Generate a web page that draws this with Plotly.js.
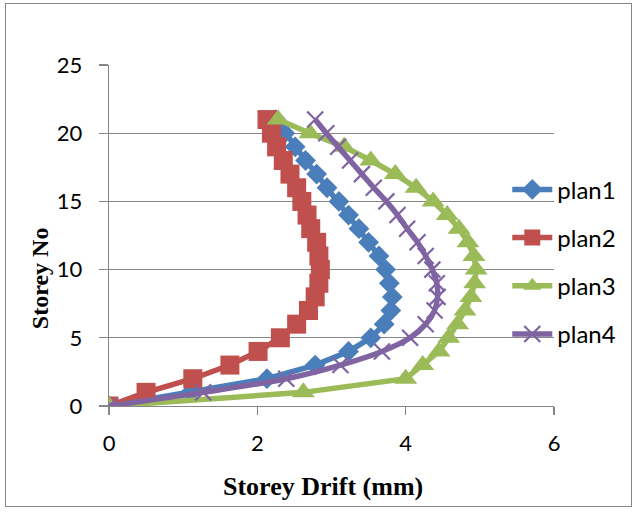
<!DOCTYPE html>
<html>
<head>
<meta charset="utf-8">
<script src="https://cdn.plot.ly/plotly-3.0.1.min.js"></script>
<style>
  html, body { margin: 0; padding: 0; background: #ffffff; }
  #wrap { position: relative; width: 640px; height: 512px; }
  #chart { width: 640px; height: 512px; }
  #frame { position: absolute; left: 5px; top: 3px; width: 627px; height: 504px;
           border: 1px solid #868686; pointer-events: none; box-sizing: border-box; }
</style>
</head>
<body>
<div id="wrap">
  <div id="chart"></div>
  <div id="frame"></div>
</div>
<script>
// Storey numbers (y) and storey drift in mm (x) for the four plans
const storeys = [0, 1, 2, 3, 4, 5, 6, 7, 8, 9, 10, 11, 12, 13, 14, 15, 16, 17, 18, 19, 20, 21];
const plan1 = [0, 1.10, 2.13, 2.78, 3.23, 3.53, 3.71, 3.80, 3.82, 3.78, 3.73, 3.64, 3.50, 3.37, 3.23, 3.10, 2.94, 2.80, 2.65, 2.51, 2.37, 2.25];
const plan2 = [0, 0.50, 1.13, 1.63, 2.01, 2.31, 2.53, 2.69, 2.78, 2.83, 2.85, 2.83, 2.80, 2.72, 2.67, 2.60, 2.53, 2.44, 2.35, 2.26, 2.19, 2.13];
const plan3 = [0, 2.62, 4.00, 4.23, 4.45, 4.58, 4.70, 4.80, 4.88, 4.93, 4.95, 4.92, 4.84, 4.72, 4.56, 4.37, 4.14, 3.86, 3.53, 3.17, 2.71, 2.28];
const plan4 = [0, 1.27, 2.39, 3.12, 3.68, 4.06, 4.27, 4.39, 4.43, 4.42, 4.36, 4.27, 4.16, 4.02, 3.89, 3.74, 3.57, 3.41, 3.25, 3.09, 2.93, 2.78];
const seriesNames = ['plan1', 'plan2', 'plan3', 'plan4'];
const xTicks = [0, 2, 4, 6];
const yTicks = [0, 5, 10, 15, 20, 25];

const sansFamily = 'Lato, "Open Sans", sans-serif';
const serifFamily = '"Liberation Serif", "Times New Roman", serif';
const tickFont = { family: sansFamily, size: 22, color: '#000000' };

const traces = [
  { x: plan1, y: storeys, name: seriesNames[0], legendgroup: 'g1', mode: 'lines+markers',
    line: { color: '#4A7EBB', width: 5.5 },
    marker: { symbol: 'diamond', size: 16, color: '#4A7EBB' } },
  { x: plan2, y: storeys, name: seriesNames[1], legendgroup: 'g2', mode: 'lines+markers',
    line: { color: '#C0504D', width: 5.5 },
    marker: { symbol: 'square', size: 19, color: '#C0504D' } },
  { x: plan3, y: storeys, name: seriesNames[2], legendgroup: 'g3', mode: 'lines+markers',
    line: { color: '#9BBB59', width: 5.5 },
    marker: { symbol: 'triangle-up', size: 20, color: '#9BBB59' } },
  { x: plan4, y: storeys, name: seriesNames[3], legendgroup: 'g4', mode: 'lines+markers',
    line: { color: '#8064A2', width: 5.5, shape: 'spline', smoothing: 0.8 },
    marker: { symbol: 'x-thin', size: 16, line: { color: '#8064A2', width: 2.2 } } }
];

const layout = {
  width: 640, height: 512,
  margin: { l: 109, r: 86, t: 65, b: 105.5 },
  paper_bgcolor: 'rgba(0,0,0,0)', plot_bgcolor: 'rgba(0,0,0,0)',
  showlegend: true,
  legend: {
    x: 0.895, xanchor: 'left', y: 0.70, yanchor: 'top',
    font: { family: sansFamily, size: 24, color: '#000000' },
    bgcolor: 'rgba(0,0,0,0)', tracegroupgap: 14, itemwidth: 40
  },
  xaxis: {
    range: [0, 6], tickvals: xTicks, ticktext: xTicks.map(String),
    showgrid: false, zeroline: false,
    showline: true, linecolor: '#868686', linewidth: 1.3,
    ticks: 'outside', ticklen: 8, tickcolor: '#868686', tickwidth: 1.3,
    tickfont: tickFont, ticklabelstandoff: 9
  },
  yaxis: {
    range: [0, 25], tickvals: yTicks, ticktext: yTicks.map(String),
    showgrid: true, gridcolor: '#868686', gridwidth: 1.3, zeroline: false,
    showline: true, linecolor: '#868686', linewidth: 1.3,
    ticks: 'outside', ticklen: 9, tickcolor: '#868686', tickwidth: 1.3,
    tickfont: tickFont, ticklabelstandoff: 12
  },
  annotations: [
    { text: '<b>Storey Drift (mm)</b>', xref: 'paper', yref: 'paper',
      x: 0.481, y: -0.236, xanchor: 'center', yanchor: 'middle', showarrow: false,
      font: { family: serifFamily, size: 26, color: '#000000' } },
    { text: '<b>Storey No</b>', xref: 'paper', yref: 'paper',
      x: -0.155, y: 0.375, xanchor: 'center', yanchor: 'middle', showarrow: false,
      textangle: -90, font: { family: serifFamily, size: 24, color: '#000000' } }
  ]
};

Plotly.newPlot('chart', traces, layout, { staticPlot: true, displayModeBar: false });
</script>
</body>
</html>
